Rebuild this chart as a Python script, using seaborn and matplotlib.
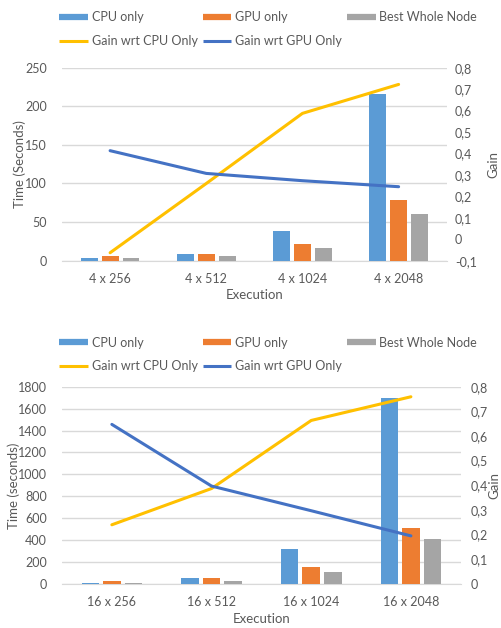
import numpy as np
import pandas as pd
import seaborn as sns
import matplotlib.pyplot as plt
from matplotlib.lines import Line2D
from matplotlib.ticker import FuncFormatter

# data
series_names = ["CPU only", "GPU only", "Best Whole Node"]

cats_top = ["4 x 256", "4 x 512", "4 x 1024", "4 x 2048"]
cpu_top = [3.5, 9, 38.5, 216]
gpu_top = [6, 9, 22, 79]
best_top = [3.5, 6, 16.5, 60]
gain_cpu_top = [-0.063, 0.26, 0.587, 0.722]
gain_gpu_top = [0.413, 0.307, 0.273, 0.245]

cats_bot = ["16 x 256", "16 x 512", "16 x 1024", "16 x 2048"]
cpu_bot = [12, 55, 322, 1693]
gpu_bot = [30, 55, 155, 508]
best_bot = [12, 30, 109, 410]
gain_cpu_bot = [0.24, 0.387, 0.663, 0.759]
gain_gpu_bot = [0.647, 0.397, 0.297, 0.195]

bar_colors = ["#5B9BD5", "#ED7D31", "#A5A5A5"]
yellow = "#FFC000"
blue = "#4472C4"
text_gray = "#595959"
grid_gray = "#D9D9D9"

sns.set_style("white")
plt.rcParams["font.family"] = ["Lato", "DejaVu Sans"]
plt.rcParams["font.size"] = 9


def comma_fmt(v, pos):
    v = round(v, 1)
    if v == 0:
        return "0"
    return f"{v:.1f}".replace(".", ",")


def draw_panel(ax, cats, cpu, gpu, best, gcpu, ggpu, ylim, ystep, glim,
               ylabel, rpad, lx, rx):
    df = pd.DataFrame({"Execution": cats, series_names[0]: cpu,
                       series_names[1]: gpu, series_names[2]: best})
    long = df.melt(id_vars="Execution", var_name="series", value_name="time")
    sns.barplot(data=long, x="Execution", y="time", hue="series",
                palette=bar_colors, saturation=1, width=0.65, gap=0.19,
                linewidth=0, ax=ax, legend=False, zorder=3)
    ax.set_ylim(*ylim)
    ax.set_yticks(np.arange(ylim[0], ylim[1] + 1, ystep))
    ax.grid(axis="y", color=grid_gray, linewidth=1)
    ax.set_axisbelow(True)
    for s in ["top", "left", "right"]:
        ax.spines[s].set_visible(False)
    ax.spines["bottom"].set_color(grid_gray)
    ax.tick_params(axis="both", length=0, colors=text_gray, labelsize=9)
    ax.tick_params(axis="y", pad=11)
    ax.tick_params(axis="x", pad=9)
    ax.set_xlabel("Execution", color=text_gray, fontsize=9.5, labelpad=3)
    ax.set_ylabel(ylabel, color=text_gray, fontsize=9.5)
    ax.yaxis.set_label_coords(lx, 0.5)

    ax2 = ax.twinx()
    xs = np.arange(len(cats))
    sns.lineplot(x=xs, y=gcpu, ax=ax2, color=yellow, linewidth=2.2, zorder=4)
    sns.lineplot(x=xs, y=ggpu, ax=ax2, color=blue, linewidth=2.2, zorder=4)
    ax2.set_ylim(*glim)
    ax2.set_yticks(np.round(np.arange(glim[0], glim[1] + 0.001, 0.1), 1))
    ax2.yaxis.set_major_formatter(FuncFormatter(comma_fmt))
    ax2.tick_params(axis="y", length=0, colors=text_gray, labelsize=9, pad=rpad)
    for s in ax2.spines.values():
        s.set_visible(False)
    ax2.set_ylabel("Gain", color=text_gray, fontsize=9.5)
    ax2.yaxis.set_label_coords(rx, 0.5)
    ax.set_xlim(-0.5, len(cats) - 0.5)
    return ax2


fig = plt.figure(figsize=(5.01, 6.28), dpi=100)
ax_top = fig.add_axes([0.1238, 0.5849, 0.7678, 0.3073])
ax_bot = fig.add_axes([0.1238, 0.0701, 0.7958, 0.3142])

draw_panel(ax_top, cats_top, cpu_top, gpu_top, best_top, gain_cpu_top,
           gain_gpu_top, (0, 250), 50, (-0.1, 0.8), "Time (Seconds)", 6,
           -0.094, 1.105)
draw_panel(ax_bot, cats_bot, cpu_bot, gpu_bot, best_bot, gain_cpu_bot,
           gain_gpu_bot, (0, 1800), 200, (0, 0.8), "Time (seconds)", 7,
           -0.105, 1.070)

# legend order so that columns read row-wise like the reference
handles = [
    Line2D([], [], color=bar_colors[0], linewidth=4.5, solid_capstyle="butt"),
    Line2D([], [], color=yellow, linewidth=2.2, solid_capstyle="butt"),
    Line2D([], [], color=bar_colors[1], linewidth=4.5, solid_capstyle="butt"),
    Line2D([], [], color=blue, linewidth=2.2, solid_capstyle="butt"),
    Line2D([], [], color=bar_colors[2], linewidth=4.5, solid_capstyle="butt"),
]
labels = ["CPU only", "Gain wrt CPU Only", "GPU only", "Gain wrt GPU Only",
          "Best Whole Node"]

for ytop in (0.982, 0.464):
    leg = fig.legend(handles, labels, ncol=3, loc="upper left",
                     bbox_to_anchor=(0.118, ytop), frameon=False, fontsize=9,
                     handlelength=2.3, handletextpad=0.3, columnspacing=0.4,
                     labelspacing=0.95, borderpad=0, borderaxespad=0)
    for t in leg.get_texts():
        t.set_color(text_gray)

fig.savefig("out.png", dpi=100)
